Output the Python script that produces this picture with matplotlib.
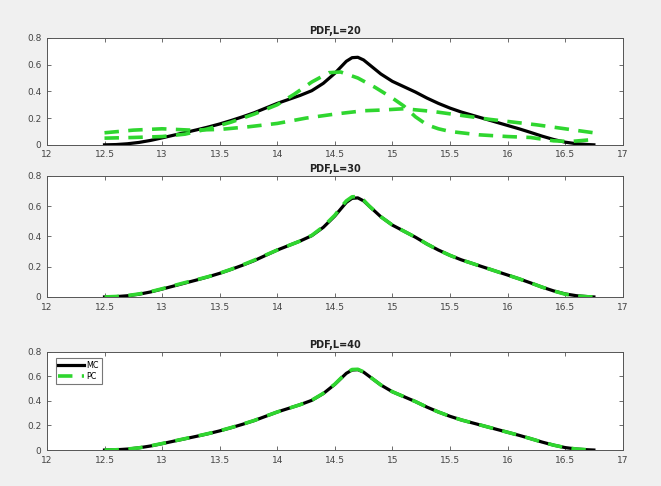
import matplotlib
matplotlib.use("Agg")
import matplotlib.pyplot as plt

# ---------------- data ----------------
titles = ["PDF,L=20", "PDF,L=30", "PDF,L=40"]

mc_x = [12.5, 12.6, 12.7, 12.8, 12.9, 13.0, 13.1, 13.2, 13.3, 13.4, 13.5, 13.6,
        13.7, 13.8, 13.9, 14.0, 14.1, 14.2, 14.3, 14.4, 14.5, 14.55, 14.6, 14.65,
        14.7, 14.75, 14.8, 14.9, 15.0, 15.1, 15.2, 15.3, 15.4, 15.5, 15.6, 15.7,
        15.8, 15.9, 16.0, 16.1, 16.2, 16.3, 16.4, 16.5, 16.6, 16.7, 16.75]
mc_y = [0.0, 0.002, 0.008, 0.018, 0.033, 0.052, 0.072, 0.092, 0.112, 0.133, 0.156, 0.182,
        0.21, 0.24, 0.275, 0.31, 0.34, 0.37, 0.405, 0.46, 0.535, 0.58, 0.625, 0.652,
        0.655, 0.635, 0.60, 0.53, 0.475, 0.435, 0.395, 0.35, 0.31, 0.275, 0.245, 0.22,
        0.195, 0.17, 0.145, 0.12, 0.093, 0.065, 0.04, 0.02, 0.008, 0.002, 0.0]

# L=20 : two PC curves that do not match MC
pc20a_x = [12.5, 12.75, 13.0, 13.2, 13.4, 13.6, 13.8, 14.0, 14.15, 14.3, 14.45, 14.55,
           14.7, 14.85, 15.0, 15.1, 15.2, 15.3, 15.4, 15.5, 15.75, 16.0, 16.2, 16.4,
           16.55, 16.75]
pc20a_y = [0.05, 0.055, 0.062, 0.08, 0.12, 0.17, 0.23, 0.30, 0.38, 0.47, 0.54, 0.545,
           0.50, 0.43, 0.35, 0.29, 0.21, 0.15, 0.12, 0.10, 0.075, 0.062, 0.055, 0.03,
           0.025, 0.04]
pc20b_x = [12.5, 12.75, 13.0, 13.25, 13.5, 13.75, 14.0, 14.25, 14.5, 14.75, 14.9,
           15.1, 15.35, 15.6, 15.85, 16.05, 16.25, 16.5, 16.75]
pc20b_y = [0.09, 0.11, 0.12, 0.11, 0.115, 0.135, 0.16, 0.20, 0.23, 0.255, 0.26,
           0.27, 0.25, 0.22, 0.19, 0.17, 0.15, 0.12, 0.09]

# L=30 and L=40 : PC almost identical to MC
pc30_y = [0.0, 0.003, 0.009, 0.02, 0.035, 0.054, 0.075, 0.095, 0.114, 0.134, 0.157, 0.183,
          0.212, 0.243, 0.277, 0.31, 0.34, 0.37, 0.407, 0.465, 0.54, 0.59, 0.635, 0.662,
          0.664, 0.64, 0.60, 0.53, 0.475, 0.435, 0.395, 0.35, 0.31, 0.275, 0.245, 0.22,
          0.195, 0.17, 0.145, 0.12, 0.093, 0.065, 0.04, 0.018, 0.006, 0.001, 0.0]
pc40_y = [0.0, 0.002, 0.008, 0.018, 0.034, 0.053, 0.073, 0.093, 0.113, 0.134, 0.157, 0.183,
          0.211, 0.241, 0.276, 0.31, 0.34, 0.37, 0.406, 0.462, 0.537, 0.583, 0.628, 0.656,
          0.658, 0.637, 0.60, 0.53, 0.475, 0.435, 0.395, 0.35, 0.31, 0.275, 0.245, 0.22,
          0.195, 0.17, 0.145, 0.12, 0.093, 0.065, 0.04, 0.02, 0.008, 0.002, 0.0]

xticks = [12, 12.5, 13, 13.5, 14, 14.5, 15, 15.5, 16, 16.5, 17]
xticklabels = ["12", "12.5", "13", "13.5", "14", "14.5", "15", "15.5", "16", "16.5", "17"]
yticks = [0, 0.2, 0.4, 0.6, 0.8]
yticklabels = ["0", "0.2", "0.4", "0.6", "0.8"]

# ---------------- figure ----------------
GREEN = "#2fd62f"
BG = "#f0f0f0"
AXC = "#555555"

fig = plt.figure(figsize=(6.61, 4.86), dpi=100, facecolor=BG)
positions = [
    [0.071, 0.702, 0.871, 0.220],
    [0.071, 0.389, 0.871, 0.249],
    [0.071, 0.074, 0.871, 0.202],
]

dash = (4, 2.6)

for i, pos in enumerate(positions):
    ax = fig.add_axes(pos)
    ax.set_facecolor("white")
    ax.plot(mc_x, mc_y, color="black", lw=2.3, label="MC", zorder=3,
            solid_joinstyle="round")
    if i == 0:
        ax.plot(pc20a_x, pc20a_y, color=GREEN, lw=2.6, ls=(0, dash), zorder=4, label="PC")
        ax.plot(pc20b_x, pc20b_y, color=GREEN, lw=2.6, ls=(0, dash), zorder=4)
    elif i == 1:
        ax.plot(mc_x, pc30_y, color=GREEN, lw=2.6, ls=(0, dash), zorder=4, label="PC")
    else:
        ax.plot(mc_x, pc40_y, color=GREEN, lw=2.6, ls=(0, dash), zorder=4, label="PC")
        leg = ax.legend(loc="upper left", fontsize=5.8, frameon=True, fancybox=False,
                        edgecolor=AXC, borderpad=0.35, handlelength=3.2,
                        handletextpad=0.3, labelspacing=0.25,
                        bbox_to_anchor=(0.008, 0.975))
        leg.get_frame().set_linewidth(0.8)
    ax.set_xlim(12, 17)
    ax.set_ylim(0, 0.8)
    ax.set_xticks(xticks)
    ax.set_xticklabels(xticklabels)
    ax.set_yticks(yticks)
    ax.set_yticklabels(yticklabels)
    ax.tick_params(direction="in", length=3, width=0.6, labelsize=6.5,
                   colors=AXC, labelcolor="#444444", top=True, right=True, pad=4)
    for sp in ax.spines.values():
        sp.set_color(AXC)
        sp.set_linewidth(0.7)
    ax.set_title(titles[i], fontsize=7, fontweight="bold", color="#222222", pad=3)

fig.savefig("out.png", dpi=100, facecolor=BG)
